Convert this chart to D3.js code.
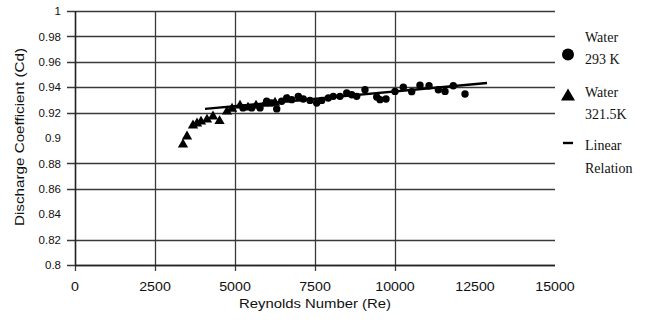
<!DOCTYPE html>
<html>
<head>
<meta charset="utf-8">
<script src="https://cdn.jsdelivr.net/npm/d3@7"></script>
<style>
  html, body { margin: 0; padding: 0; background: #fff; }
  svg { display: block; }
</style>
</head>
<body>
<svg id="chart" width="662" height="324"></svg>
<script>
// Water at 293 K: Reynolds number and discharge coefficient
const re293 = [5250, 5522, 5782, 5991, 6147, 6304, 6459, 6616, 6772, 6978, 7134, 7344, 7553, 7710,
  7916, 8072, 8281, 8491, 8648, 8803, 9062, 9429, 9532, 9719, 10000, 10260, 10522, 10781, 11063,
  11354, 11563, 11822, 12188];
const cd293 = [0.9237, 0.9237, 0.9237, 0.9289, 0.9276, 0.9229, 0.9289, 0.9315, 0.9302, 0.9328, 0.9307,
  0.9296, 0.9276, 0.9296, 0.9315, 0.9328, 0.9328, 0.9355, 0.9341, 0.9328, 0.938, 0.9323, 0.9302,
  0.9307, 0.9367, 0.940, 0.9365, 0.9416, 0.9412, 0.938, 0.9367, 0.9412, 0.9347];

// Water at 321.5 K
const re321 = [3375, 3500, 3687, 3813, 3938, 4125, 4312, 4516, 4750, 4907, 5156, 5406, 5657, 5937, 6250, 6656, 7031];
const cd321 = [0.8949, 0.9012, 0.9098, 0.9114, 0.9129, 0.9145, 0.9169, 0.9133, 0.9208, 0.9231, 0.9255,
  0.9239, 0.9255, 0.927, 0.9278, 0.9302, 0.931];

// Linear relation end points
const reLinear = [4063, 12875];
const cdLinear = [0.9229, 0.9433];

// Axis ticks
const xTickValues = [0, 2500, 5000, 7500, 10000, 12500, 15000];
const xGridValues = [0, 2500, 5000, 7500, 10000];
const yTickValues = [0.8, 0.82, 0.84, 0.86, 0.88, 0.9, 0.92, 0.94, 0.96, 0.98, 1];
const yGridValues = [0.8, 0.82, 0.86, 0.88, 0.92, 0.94, 0.96, 0.98, 1];

const legendLabels = [["Water", "293 K"], ["Water", "321.5K"], ["Linear", "Relation"]];

const svg = d3.select("#chart");
const x = d3.scaleLinear().domain([0, 15000]).range([75, 555]);
const y = d3.scaleLinear().domain([0.8, 1]).range([265, 11]);

const gridColor = "#3a3a3a";
const sans = "'Liberation Sans', Arial, sans-serif";
const serif = "'Liberation Serif', 'Times New Roman', serif";
const px = v => Math.round(v) + 0.5;

// horizontal grid lines with outward tick on the left
svg.append("g").selectAll("line").data(yGridValues).join("line")
  .attr("x1", x(0) - 8).attr("x2", x(15000))
  .attr("y1", d => px(y(d))).attr("y2", d => px(y(d)))
  .attr("stroke", gridColor).attr("stroke-width", 1.3);

// vertical grid lines with tick below the axis
svg.append("g").selectAll("line").data(xGridValues).join("line")
  .attr("x1", d => px(x(d))).attr("x2", d => px(x(d)))
  .attr("y1", y(1)).attr("y2", y(0.8) + 6)
  .attr("stroke", gridColor).attr("stroke-width", 1.3);

// axis lines
svg.append("line").attr("x1", px(x(0))).attr("x2", px(x(0)))
  .attr("y1", y(1)).attr("y2", y(0.8)).attr("stroke", "#222").attr("stroke-width", 1.4);
svg.append("line").attr("x1", x(0)).attr("x2", x(15000))
  .attr("y1", px(y(0.8))).attr("y2", px(y(0.8)))
  .attr("stroke", "#222").attr("stroke-width", 1.4);

// tick labels
svg.append("g").selectAll("text").data(yTickValues).join("text")
  .attr("x", 61).attr("y", d => y(d)).attr("dy", "0.36em")
  .attr("text-anchor", "end").attr("font-family", sans).attr("font-size", 11.5)
  .attr("fill", "#111").text(d => String(+d.toFixed(2)));

svg.append("g").selectAll("text").data(xTickValues).join("text")
  .attr("x", d => x(d)).attr("y", 291)
  .attr("text-anchor", "middle").attr("font-family", sans).attr("font-size", 12.5)
  .attr("textLength", d => String(d).length * 7.9).attr("lengthAdjust", "spacingAndGlyphs")
  .attr("fill", "#111").text(d => d);

// axis titles
svg.append("text").attr("x", x(7500)).attr("y", 308)
  .attr("text-anchor", "middle").attr("font-family", sans).attr("font-size", 13)
  .attr("textLength", 152).attr("lengthAdjust", "spacingAndGlyphs")
  .attr("fill", "#111").text("Reynolds Number (Re)");
svg.append("text").attr("transform", `translate(24,${y(0.9) - 1}) rotate(-90)`)
  .attr("text-anchor", "middle").attr("font-family", sans).attr("font-size", 13)
  .attr("textLength", 178).attr("lengthAdjust", "spacingAndGlyphs")
  .attr("fill", "#111").text("Discharge Coefficient (Cd)");

// linear relation
svg.append("line")
  .attr("x1", x(reLinear[0])).attr("y1", y(cdLinear[0]))
  .attr("x2", x(reLinear[1])).attr("y2", y(cdLinear[1]))
  .attr("stroke", "#000").attr("stroke-width", 2.4);

// 321.5 K triangles
const tri = d3.symbol().type(d3.symbolTriangle).size(46);
svg.append("g").selectAll("path").data(re321.map((r, i) => [r, cd321[i]])).join("path")
  .attr("d", tri).attr("transform", d => `translate(${x(d[0])},${y(d[1])})`).attr("fill", "#000");

// 293 K circles
svg.append("g").selectAll("circle").data(re293.map((r, i) => [r, cd293[i]])).join("circle")
  .attr("cx", d => x(d[0])).attr("cy", d => y(d[1])).attr("r", 3.7).attr("fill", "#000");

// legend
const lg = svg.append("g");
lg.append("circle").attr("cx", 568).attr("cy", 54.5).attr("r", 6).attr("fill", "#000");
lg.append("path").attr("d", d3.symbol().type(d3.symbolTriangle).size(85))
  .attr("transform", "translate(568,96.5)").attr("fill", "#000");
lg.append("line").attr("x1", 563).attr("x2", 573).attr("y1", 143).attr("y2", 143)
  .attr("stroke", "#000").attr("stroke-width", 2.4);
const rowBase = [[42, 64], [97, 119], [150, 172.5]];
legendLabels.forEach((pair, i) => {
  pair.forEach((label, j) => {
    lg.append("text").attr("x", 585).attr("y", rowBase[i][j])
      .attr("font-family", serif).attr("font-size", 14)
      .attr("fill", "#111").text(label);
  });
});
</script>
</body>
</html>
